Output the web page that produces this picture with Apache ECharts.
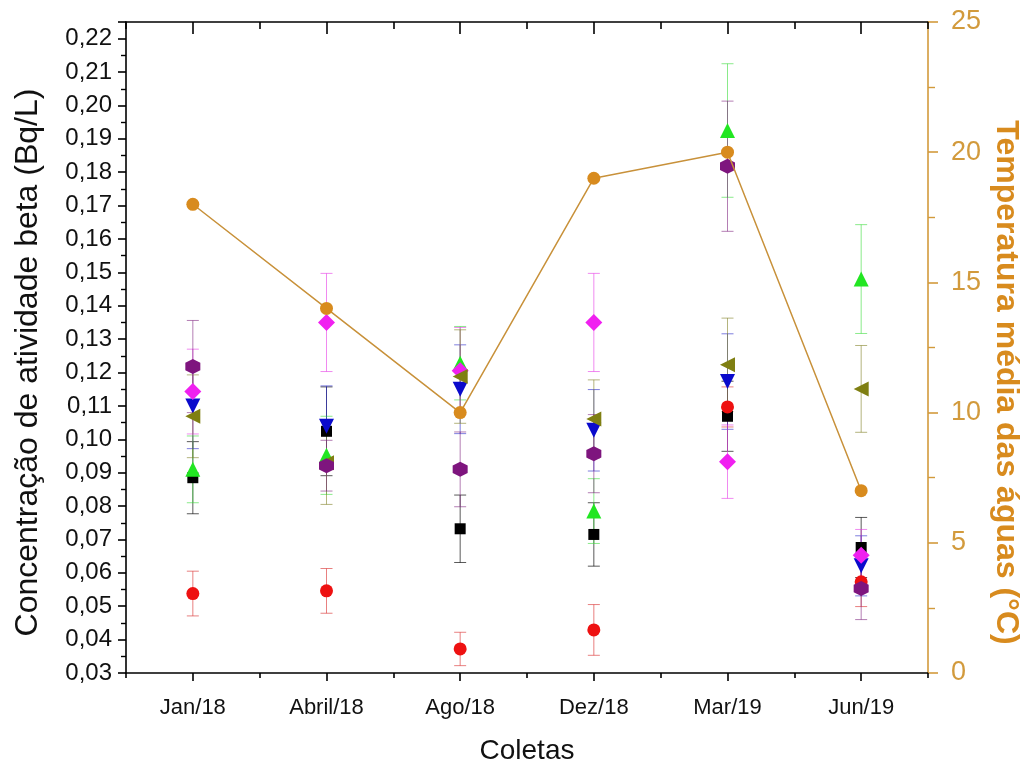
<!DOCTYPE html>
<html>
<head>
<meta charset="utf-8">
<script src="https://cdn.jsdelivr.net/npm/echarts@6/dist/echarts.min.js"></script>
<style>
  html, body { margin: 0; padding: 0; background: #ffffff; }
  #chart { width: 1025px; height: 773px; }
</style>
</head>
<body>
<div id="chart"></div>
<script>
// Sampling campaigns
const coletas = ['Jan/18', 'Abril/18', 'Ago/18', 'Dez/18', 'Mar/19', 'Jun/19'];

// Beta activity concentration (Bq/L) per sampling point, with uncertainties
const pontoA = [0.0885, 0.1024, 0.0732, 0.0715, 0.1069, 0.0676];
const pontoAErr = [0.0108, 0.0133, 0.0101, 0.0095, 0.0105, 0.0090];

const pontoB = [0.0538, 0.0546, 0.0372, 0.0429, 0.1097, 0.0573];
const pontoBErr = [0.0067, 0.0067, 0.0050, 0.0076, 0.0060, 0.0074];

const pontoC = [0.0910, 0.0952, 0.1228, 0.0785, 0.1925, 0.1480];
const pontoCErr = [0.0100, 0.0117, 0.0110, 0.0097, 0.0200, 0.0163];

const pontoD = [0.1100, 0.1039, 0.1150, 0.1027, 0.1173, 0.0621];
const pontoDErr = [0.0128, 0.0121, 0.0133, 0.0122, 0.0143, 0.0090];

const pontoE = [0.1143, 0.1350, 0.1205, 0.1350, 0.0933, 0.0653];
const pontoEErr = [0.0127, 0.0147, 0.0130, 0.0147, 0.0110, 0.0077];

const pontoF = [0.1069, 0.0930, 0.1188, 0.1061, 0.1223, 0.1151];
const pontoFErr = [0.0124, 0.0125, 0.0140, 0.0117, 0.0140, 0.0130];

const pontoG = [0.1218, 0.0921, 0.0910, 0.0957, 0.1818, 0.0553];
const pontoGErr = [0.0138, 0.0076, 0.0112, 0.0117, 0.0195, 0.0093];

// Mean water temperature (°C)
const temperatura = [18, 14, 10, 19, 20, 7];

const FONT = 'Liberation Sans, Arial, sans-serif';
const TEMP_COLOR = '#D88B1E';
const TEMP_AXIS = '#D29A3C';
const HEX = 'path://M0.5,0 L0.933,0.25 L0.933,0.75 L0.5,1 L0.067,0.75 L0.067,0.25 Z';

const grupos = [
  { vals: pontoA, errs: pontoAErr, color: '#000000', bar: 'rgba(0,0,0,0.65)', symbol: 'rect', size: 11, rotate: 0 },
  { vals: pontoB, errs: pontoBErr, color: '#EE1111', bar: 'rgba(220,60,60,0.65)', symbol: 'circle', size: 13, rotate: 0 },
  { vals: pontoC, errs: pontoCErr, color: '#22E622', bar: 'rgba(60,220,60,0.6)', symbol: 'triangle', size: 15, rotate: 0 },
  { vals: pontoD, errs: pontoDErr, color: '#0A0ACC', bar: 'rgba(40,40,200,0.6)', symbol: 'triangle', size: 15, rotate: 180 },
  { vals: pontoE, errs: pontoEErr, color: '#F020F0', bar: 'rgba(230,60,230,0.6)', symbol: 'diamond', size: 17, rotate: 0 },
  { vals: pontoF, errs: pontoFErr, color: '#7F7F12', bar: 'rgba(130,130,40,0.6)', symbol: 'triangle', size: 15, rotate: 90 },
  { vals: pontoG, errs: pontoGErr, color: '#7E157E', bar: 'rgba(130,40,130,0.6)', symbol: HEX, size: 15, rotate: 0 }
];

function errorBars(color) {
  return function (params, api) {
    const x = api.value(0), v = api.value(1), e = api.value(2);
    const hi = api.coord([x, v + e]);
    const lo = api.coord([x, v - e]);
    const w = 6;
    const style = { stroke: color, lineWidth: 1 };
    return {
      type: 'group',
      children: [
        { type: 'line', shape: { x1: hi[0], y1: hi[1], x2: lo[0], y2: lo[1] }, style: style },
        { type: 'line', shape: { x1: hi[0] - w, y1: hi[1], x2: hi[0] + w, y2: hi[1] }, style: style },
        { type: 'line', shape: { x1: lo[0] - w, y1: lo[1], x2: lo[0] + w, y2: lo[1] }, style: style }
      ]
    };
  };
}

const series = [];
grupos.forEach(function (g, k) {
  series.push({
    type: 'custom',
    name: 'err' + k,
    xAxisIndex: 0,
    yAxisIndex: 0,
    renderItem: errorBars(g.bar),
    data: g.vals.map(function (v, i) { return [i, v, g.errs[i]]; }),
    encode: { x: 0, y: 1 },
    z: 2,
    silent: true
  });
});
grupos.forEach(function (g, k) {
  series.push({
    type: 'scatter',
    name: 'ponto' + k,
    xAxisIndex: 0,
    yAxisIndex: 0,
    symbol: g.symbol,
    symbolSize: g.size,
    symbolRotate: g.rotate,
    itemStyle: { color: g.color, opacity: 1 },
    data: g.vals.map(function (v, i) { return [i, v]; }),
    z: 3 + k
  });
});
series.push({
  type: 'line',
  name: 'temperatura',
  xAxisIndex: 0,
  yAxisIndex: 1,
  data: temperatura,
  symbol: 'circle',
  symbolSize: 13,
  lineStyle: { color: '#C8913A', width: 1.5 },
  itemStyle: { color: TEMP_COLOR },
  z: 20
});

const blackLine = { show: true, lineStyle: { color: '#000', width: 1.6 } };

const option = {
  animation: false,
  backgroundColor: '#ffffff',
  grid: { left: 126, right: 97, top: 22, bottom: 100, containLabel: false, outerBoundsMode: 'none' },
  xAxis: [
    {
      type: 'category',
      data: coletas,
      position: 'bottom',
      boundaryGap: true,
      axisLine: blackLine,
      axisTick: { show: true, alignWithLabel: true, length: 8, inside: false, lineStyle: { color: '#000', width: 1.6 } },
      axisLabel: { color: '#111', fontFamily: FONT, fontSize: 22, margin: 24 },
      splitLine: { show: false },
      name: 'Coletas',
      nameLocation: 'middle',
      nameGap: 64,
      nameTextStyle: { color: '#111', fontFamily: FONT, fontSize: 28 }
    },
    {
      type: 'category',
      data: coletas,
      position: 'bottom',
      boundaryGap: true,
      axisLine: { show: false },
      axisTick: { show: true, alignWithLabel: false, length: 5, lineStyle: { color: '#000', width: 1.6 } },
      axisLabel: { show: false },
      splitLine: { show: false }
    },
    {
      type: 'category',
      data: coletas,
      position: 'top',
      boundaryGap: true,
      axisLine: blackLine,
      axisTick: { show: true, alignWithLabel: true, inside: true, length: 12, lineStyle: { color: '#000', width: 1.6 } },
      axisLabel: { show: false },
      splitLine: { show: false }
    },
    {
      type: 'category',
      data: coletas,
      position: 'top',
      boundaryGap: true,
      axisLine: { show: false },
      axisTick: { show: true, alignWithLabel: false, inside: true, length: 7, lineStyle: { color: '#000', width: 1.6 } },
      axisLabel: { show: false },
      splitLine: { show: false }
    }
  ],
  yAxis: [
    {
      type: 'value',
      position: 'left',
      min: 0.03,
      max: 0.225,
      interval: 0.01,
      axisLine: blackLine,
      axisTick: { show: true, length: 8, lineStyle: { color: '#000', width: 1.6 } },
      minorTick: { show: true, splitNumber: 2, length: 5, lineStyle: { color: '#000', width: 1.4 } },
      splitLine: { show: false },
      axisLabel: {
        color: '#111', fontFamily: FONT, fontSize: 24, margin: 14,
        formatter: function (v) { return v > 0.2205 ? '' : v.toFixed(2).replace('.', ','); }
      },
      name: 'Concentração de atividade beta (Bq/L)',
      nameLocation: 'middle',
      nameGap: 82,
      nameTextStyle: { color: '#111', fontFamily: FONT, fontSize: 32, padding: [0, 30, 0, 0] }
    },
    {
      type: 'value',
      position: 'right',
      min: 0,
      max: 25,
      interval: 5,
      axisLine: { show: true, lineStyle: { color: TEMP_AXIS, width: 1.6 } },
      axisTick: { show: true, length: 10, lineStyle: { color: TEMP_AXIS, width: 1.6 } },
      minorTick: { show: true, splitNumber: 2, length: 7, lineStyle: { color: TEMP_AXIS, width: 1.4 } },
      splitLine: { show: false },
      axisLabel: { color: TEMP_AXIS, fontFamily: FONT, fontSize: 27, margin: 23 },
      name: 'Temperatura média das águas (°C)',
      nameLocation: 'middle',
      nameRotate: -90,
      nameGap: 62,
      nameMoveOverlap: false,
      nameTextStyle: { color: TEMP_COLOR, fontFamily: FONT, fontSize: 32, fontWeight: 'bold', padding: [0, 0, 0, 70] }
    }
  ],
  series: series
};

const chart = echarts.init(document.getElementById('chart'), null, { renderer: 'canvas' });
chart.setOption(option);
</script>
</body>
</html>
